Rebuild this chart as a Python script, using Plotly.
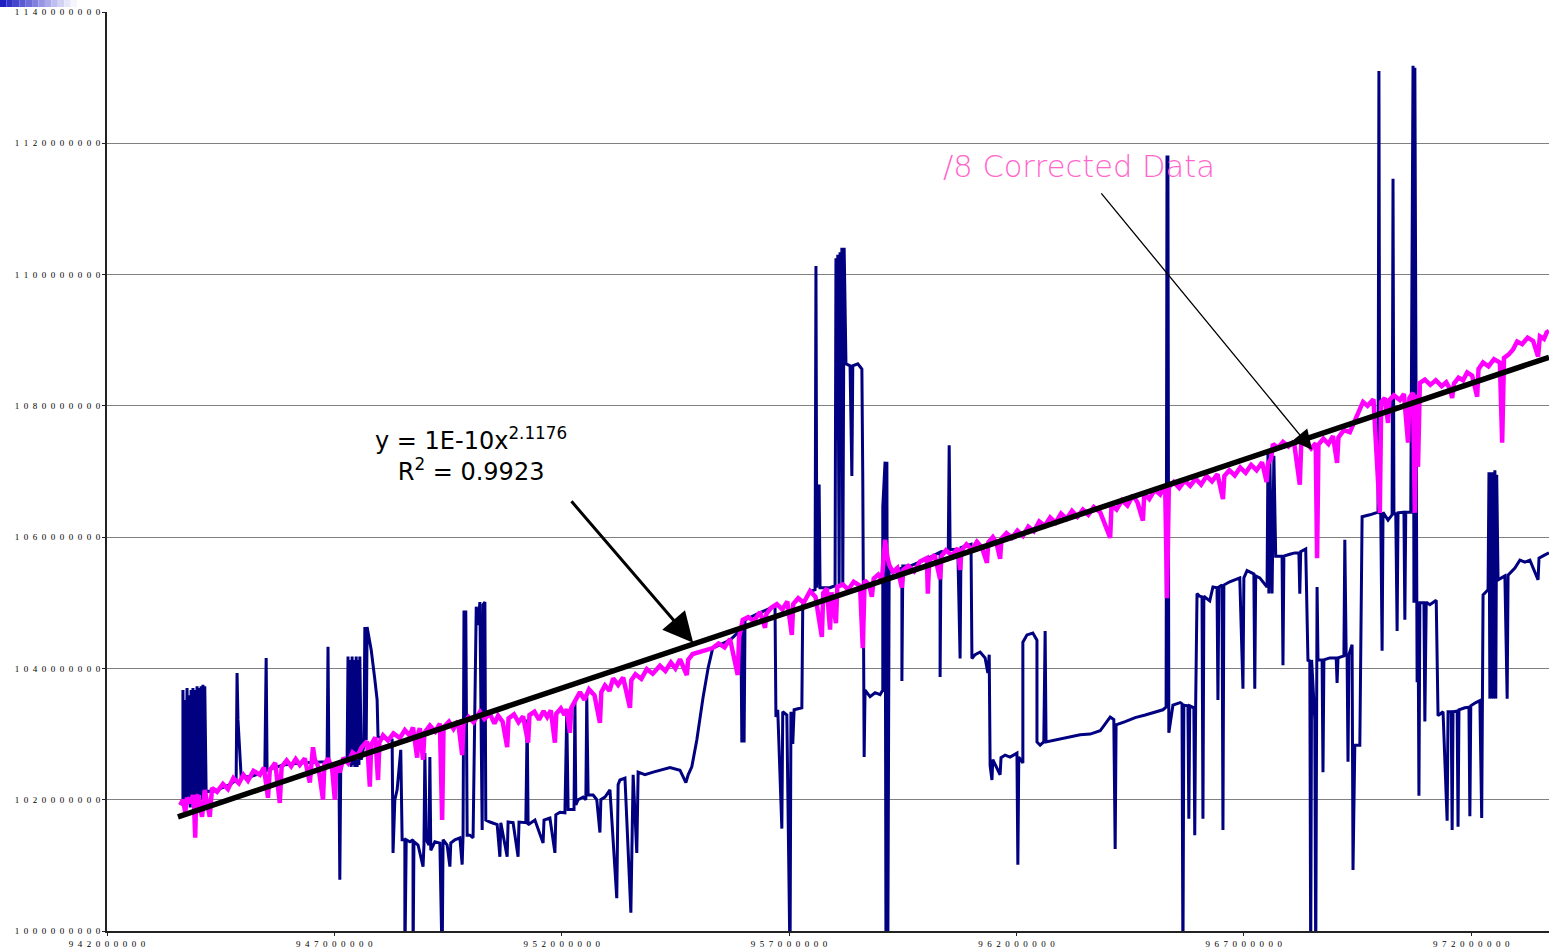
import plotly.graph_objects as go

# ---- data (x and y in millions) ----
# "/8 corrected" series: (x, y) readings
MAG_POINTS = [
    (943.61, 1019.2), (943.67, 1020.0), (943.72, 1018.1), (943.76, 1020.3), (943.83, 1019.5), (943.89, 1020.7),
    (943.91, 1020.0), (943.94, 1014.2), (943.96, 1020.4), (944.00, 1020.7), (944.09, 1017.4), (944.15, 1021.5),
    (944.26, 1017.4), (944.31, 1021.8), (944.42, 1021.2), (944.55, 1022.4), (944.66, 1021.6), (944.78, 1023.3),
    (944.90, 1022.5), (945.00, 1023.8), (945.10, 1022.9), (945.22, 1024.4), (945.36, 1023.8), (945.45, 1024.9),
    (945.54, 1020.3), (945.58, 1024.5), (945.70, 1025.6), (945.80, 1019.5), (945.84, 1025.0), (945.95, 1026.0),
    (946.05, 1025.1), (946.15, 1026.2), (946.24, 1025.3), (946.35, 1026.3), (946.46, 1022.6), (946.49, 1025.9),
    (946.53, 1028.0), (946.57, 1026.1), (946.65, 1025.0), (946.75, 1020.0), (946.78, 1025.4), (946.86, 1026.3),
    (946.95, 1024.8), (947.01, 1020.0), (947.04, 1025.2), (947.12, 1024.2), (947.20, 1026.4), (947.30, 1025.6),
    (947.40, 1027.2), (947.50, 1026.6), (947.60, 1028.0), (947.72, 1028.9), (947.78, 1022.0), (947.81, 1028.4),
    (947.90, 1029.5), (947.96, 1023.0), (947.99, 1028.7), (948.07, 1029.8), (948.18, 1029.0), (948.30, 1030.1),
    (948.44, 1029.4), (948.55, 1030.6), (948.65, 1029.8), (948.73, 1031.0), (948.82, 1026.4), (948.85, 1030.3),
    (948.88, 1030.9), (948.95, 1026.1), (948.98, 1030.2), (949.10, 1031.3), (949.22, 1030.4), (949.32, 1031.6),
    (949.37, 1016.9), (949.40, 1031.0), (949.52, 1031.9), (949.62, 1030.8), (949.72, 1032.0), (949.81, 1026.8),
    (949.84, 1031.6), (949.95, 1032.6), (950.06, 1031.8), (950.20, 1033.4), (950.30, 1032.3), (950.42, 1033.1),
    (950.52, 1031.6), (950.60, 1032.8), (950.70, 1031.9), (950.80, 1028.0), (950.83, 1032.4), (950.95, 1033.0),
    (951.05, 1031.8), (951.15, 1032.7), (951.26, 1028.7), (951.29, 1032.9), (951.40, 1033.4), (951.50, 1032.2),
    (951.60, 1033.5), (951.68, 1032.6), (951.76, 1033.6), (951.85, 1028.7), (951.88, 1033.1), (951.98, 1033.9),
    (952.06, 1032.9), (952.11, 1033.8), (952.18, 1030.2), (952.21, 1034.0), (952.29, 1035.0), (952.40, 1036.4),
    (952.50, 1035.2), (952.60, 1036.8), (952.72, 1035.9), (952.84, 1031.7), (952.87, 1036.4), (952.95, 1037.4),
    (953.05, 1036.6), (953.13, 1038.5), (953.24, 1037.5), (953.35, 1038.6), (953.50, 1034.0), (953.53, 1038.2),
    (953.62, 1039.1), (953.75, 1038.4), (953.87, 1039.9), (954.00, 1039.2), (954.16, 1040.4), (954.28, 1039.6),
    (954.40, 1040.9), (954.50, 1040.0), (954.60, 1041.4), (954.75, 1039.0), (954.78, 1041.3), (954.88, 1042.2),
    (955.32, 1043.1), (955.45, 1043.8), (955.58, 1043.2), (955.70, 1044.5), (955.87, 1039.0), (955.90, 1044.8),
    (955.94, 1046.0), (955.98, 1047.4), (956.10, 1047.8), (956.22, 1047.2), (956.36, 1048.6), (956.47, 1046.2),
    (956.50, 1048.3), (956.60, 1049.2), (956.73, 1049.8), (956.85, 1049.0), (956.96, 1050.2), (957.06, 1045.1),
    (957.09, 1049.8), (957.20, 1050.7), (957.32, 1050.0), (957.46, 1051.8), (957.58, 1050.9), (957.72, 1044.8),
    (957.75, 1051.5), (957.83, 1052.2), (957.90, 1045.9), (957.93, 1051.6), (958.03, 1046.9), (958.06, 1052.4),
    (958.18, 1052.8), (958.30, 1052.0), (958.42, 1053.2), (958.56, 1052.6), (958.62, 1043.1), (958.66, 1053.4),
    (958.76, 1052.8), (958.82, 1050.9), (958.86, 1053.7), (958.96, 1054.3), (959.04, 1053.5), (959.11, 1059.6),
    (959.16, 1057.0), (959.20, 1055.8), (959.28, 1054.7), (959.38, 1055.3), (959.48, 1052.3), (959.51, 1055.0),
    (959.62, 1055.6), (959.75, 1054.8), (959.88, 1056.3), (960.03, 1056.8), (960.05, 1051.4), (960.08, 1056.4),
    (960.20, 1057.3), (960.32, 1053.6), (960.35, 1057.1), (960.45, 1058.0), (960.58, 1057.2), (960.71, 1058.3),
    (960.76, 1055.0), (960.79, 1058.0), (960.90, 1058.9), (961.02, 1058.1), (961.13, 1059.3), (961.24, 1058.4),
    (961.35, 1056.1), (961.38, 1059.2), (961.48, 1060.0), (961.56, 1059.1), (961.64, 1056.7), (961.67, 1059.8),
    (961.78, 1060.6), (961.90, 1059.9), (962.02, 1061.0), (962.14, 1060.2), (962.26, 1061.6), (962.38, 1060.9),
    (962.50, 1062.4), (962.62, 1061.7), (962.74, 1063.0), (962.86, 1062.2), (962.98, 1063.6), (963.10, 1062.8),
    (963.22, 1064.0), (963.34, 1063.1), (963.46, 1064.2), (963.58, 1063.4), (963.70, 1064.6), (963.84, 1063.8),
    (964.06, 1059.9), (964.09, 1064.9), (964.20, 1064.2), (964.32, 1065.6), (964.44, 1064.8), (964.56, 1066.4),
    (964.66, 1065.3), (964.78, 1062.5), (964.81, 1066.6), (964.92, 1065.8), (965.04, 1067.2), (965.16, 1066.5),
    (965.27, 1067.9), (965.31, 1050.7), (965.35, 1067.6), (965.46, 1068.4), (965.58, 1067.5), (965.70, 1068.6),
    (965.82, 1067.8), (965.94, 1068.9), (966.06, 1068.0), (966.18, 1069.3), (966.30, 1068.5), (966.42, 1069.6),
    (966.54, 1065.8), (966.57, 1069.3), (966.68, 1070.2), (966.80, 1069.4), (966.92, 1070.6), (967.04, 1069.8),
    (967.16, 1071.0), (967.28, 1070.2), (967.40, 1071.4), (967.50, 1068.4), (967.53, 1071.2), (967.60, 1072.0),
    (967.64, 1074.2), (967.75, 1073.6), (967.86, 1074.5), (967.98, 1073.8), (968.10, 1074.6), (968.23, 1068.0),
    (968.26, 1074.0), (968.36, 1074.6), (968.48, 1073.5), (968.58, 1074.3), (968.61, 1056.8), (968.64, 1074.1),
    (968.75, 1075.0), (968.86, 1074.2), (968.96, 1075.4), (969.05, 1071.3), (969.08, 1075.2), (969.20, 1076.3),
    (969.33, 1076.0), (969.42, 1077.4), (969.49, 1078.5), (969.56, 1079.6), (969.62, 1080.6), (969.72, 1080.0),
    (969.85, 1081.0), (969.99, 1063.7), (970.02, 1080.6), (970.10, 1081.2), (970.17, 1077.4), (970.20, 1080.9),
    (970.30, 1081.6), (970.43, 1080.9), (970.52, 1081.8), (970.61, 1074.4), (970.64, 1081.2), (970.72, 1082.0),
    (970.76, 1063.7), (970.78, 1081.7), (970.83, 1070.7), (970.87, 1083.5), (970.98, 1084.0), (971.10, 1083.2),
    (971.22, 1083.9), (971.35, 1083.0), (971.45, 1083.6), (971.53, 1082.6), (971.58, 1081.2), (971.62, 1083.4),
    (971.72, 1084.3), (971.82, 1083.9), (971.91, 1085.1), (972.02, 1084.6), (972.13, 1081.4), (972.16, 1085.6),
    (972.26, 1086.6), (972.38, 1086.0), (972.50, 1087.1), (972.63, 1086.6), (972.68, 1074.4), (972.72, 1087.3),
    (972.82, 1087.8), (972.92, 1088.6), (973.01, 1089.8), (973.12, 1089.4), (973.24, 1090.4), (973.36, 1089.9),
    (973.47, 1087.5), (973.51, 1090.6), (973.60, 1090.2), (973.66, 1091.2), (973.71, 1091.4),
]

NAVY_X = [943.61, 943.67, 943.67, 943.69, 943.72, 943.74, 943.76, 943.78, 943.80, 943.83, 943.85, 943.87, 943.89, 943.91,
          943.94, 943.96, 943.98, 944.00, 944.02, 944.04, 944.07, 944.09, 944.11, 944.13, 944.15, 944.18, 944.42, 944.70,
          944.84, 944.86, 944.88, 944.95, 945.14, 945.47, 945.50, 945.52, 945.87, 946.24, 946.84, 946.86, 946.88, 947.10,
          947.12, 947.14, 947.28, 947.30, 947.32, 947.34, 947.37, 947.39, 947.41, 947.43, 947.45, 947.48, 947.50, 947.52,
          947.54, 947.56, 947.59, 947.65, 947.67, 947.70, 947.72, 947.81, 947.89, 947.94, 947.96, 948.27, 948.29, 948.33,
          948.38, 948.46, 948.49, 948.55, 948.55, 948.58, 948.66, 948.73, 948.73, 948.75, 948.84, 948.95, 948.97, 948.99,
          949.02, 949.08, 949.10, 949.12, 949.21, 949.32, 949.37, 949.39, 949.48, 949.54, 949.56, 949.65, 949.76, 949.81,
          949.83, 949.85, 949.89, 949.92, 949.98, 950.05, 950.12, 950.16, 950.20, 950.25, 950.27, 950.31, 950.33, 950.42,
          950.58, 950.64, 950.66, 950.80, 950.82, 950.93, 951.04, 951.06, 951.21, 951.24, 951.26, 951.41, 951.59, 951.61,
          951.74, 951.85, 951.87, 951.96, 952.07, 952.11, 952.14, 952.27, 952.29, 952.31, 952.36, 952.47, 952.53, 952.55,
          952.58, 952.69, 952.77, 952.84, 952.86, 952.95, 953.06, 953.21, 953.24, 953.28, 953.39, 953.52, 953.57, 953.65,
          953.68, 953.83, 954.01, 954.16, 954.38, 954.60, 954.73, 954.78, 954.86, 954.97, 955.11, 955.22, 955.32, 955.70,
          955.94, 955.96, 955.98, 956.01, 956.03, 956.36, 956.69, 956.71, 956.75, 956.84, 956.86, 956.95, 957.02, 957.04,
          957.08, 957.11, 957.28, 957.30, 957.46, 957.57, 957.59, 957.61, 957.66, 957.68, 957.90, 958.01, 958.03, 958.05,
          958.07, 958.10, 958.12, 958.14, 958.16, 958.18, 958.21, 958.25, 958.34, 958.38, 958.40, 958.51, 958.60, 958.62,
          958.65, 958.67, 958.78, 958.89, 959.00, 959.06, 959.06, 959.11, 959.13, 959.15, 959.17, 959.20, 959.28, 959.48,
          959.48, 959.50, 959.66, 960.03, 960.32, 960.32, 960.34, 960.50, 960.52, 960.54, 960.71, 960.76, 960.78, 961.00,
          961.02, 961.09, 961.20, 961.31, 961.37, 961.40, 961.42, 961.46, 961.48, 961.64, 961.66, 961.75, 961.86, 962.01,
          962.03, 962.05, 962.14, 962.14, 962.23, 962.36, 962.45, 962.45, 962.52, 962.60, 962.63, 962.65, 962.85, 963.11,
          963.40, 963.62, 963.84, 964.06, 964.14, 964.17, 964.19, 964.39, 964.61, 964.83, 965.05, 965.22, 965.29, 965.31,
          965.33, 965.35, 965.44, 965.60, 965.64, 965.66, 965.68, 965.77, 965.79, 965.81, 965.90, 965.92, 965.94, 965.97,
          966.03, 966.08, 966.10, 966.12, 966.25, 966.32, 966.41, 966.43, 966.45, 966.52, 966.54, 966.56, 966.69, 966.91,
          966.98, 967.00, 967.07, 967.22, 967.24, 967.26, 967.35, 967.51, 967.53, 967.55, 967.57, 967.62, 967.66, 967.70,
          967.79, 967.84, 967.86, 967.88, 968.01, 968.12, 968.21, 968.23, 968.25, 968.36, 968.41, 968.45, 968.47, 968.49,
          968.56, 968.58, 968.61, 968.63, 968.72, 968.74, 968.76, 968.89, 969.03, 969.05, 969.07, 969.20, 969.22, 969.25,
          969.27, 969.29, 969.31, 969.38, 969.40, 969.44, 969.55, 969.60, 969.77, 969.95, 969.97, 969.99, 970.01, 970.04,
          970.06, 970.17, 970.26, 970.28, 970.30, 970.34, 970.37, 970.39, 970.52, 970.54, 970.56, 970.67, 970.72, 970.74,
          970.76, 970.81, 970.83, 970.85, 970.87, 970.96, 970.98, 971.01, 971.09, 971.23, 971.27, 971.38, 971.47, 971.49,
          971.56, 971.58, 971.60, 971.69, 971.71, 971.73, 971.86, 971.95, 971.97, 971.99, 972.10, 972.19, 972.23, 972.26,
          972.37, 972.39, 972.41, 972.43, 972.45, 972.47, 972.50, 972.52, 972.54, 972.56, 972.59, 972.74, 972.79, 972.81,
          972.96, 973.07, 973.18, 973.29, 973.47, 973.49, 973.62, 973.71]
NAVY_Y = [1019.2, 1020.0, 1036.7, 1019.2, 1035.2, 1019.2, 1037.0, 1020.0, 1035.9, 1018.8, 1036.7, 1020.0, 1037.0, 1019.2,
          1036.7, 1020.0, 1037.3, 1020.3, 1037.0, 1020.7, 1037.3, 1020.0, 1037.5, 1020.7, 1037.3, 1021.2, 1021.5, 1022.3,
          1023.0, 1039.3, 1032.2, 1023.5, 1023.5, 1024.2, 1041.6, 1024.5, 1025.3, 1025.6, 1025.8, 1043.3, 1025.3, 1024.9,
          1007.8, 1025.3, 1026.1, 1041.8, 1025.3, 1041.3, 1025.0, 1041.8, 1025.3, 1041.3, 1025.0, 1041.8, 1025.0, 1041.3,
          1025.3, 1041.8, 1026.1, 1028.3, 1046.3, 1029.1, 1046.3, 1042.8, 1038.3, 1035.2, 1029.6, 1029.1, 1011.9, 1020.0,
          1021.5, 1027.6, 1013.9, 1013.9, 995.0, 1013.9, 1013.6, 1013.9, 995.0, 1013.6, 1013.1, 1009.8, 1013.1, 1027.1,
          1013.9, 1013.1, 1026.5, 1012.3, 1013.6, 1013.4, 995.0, 1013.9, 1013.1, 1009.8, 1013.4, 1013.9, 1014.2, 1010.1,
          1014.6, 1048.6, 1048.6, 1014.6, 1014.6, 1014.2, 1049.4, 1046.6, 1050.1, 1015.4, 1049.7, 1050.1, 1016.9, 1016.6,
          1016.2, 1011.3, 1016.5, 1011.3, 1016.6, 1016.5, 1011.3, 1016.6, 1016.5, 1032.2, 1016.2, 1016.9, 1013.4, 1016.9,
          1017.2, 1011.9, 1017.7, 1018.1, 1018.0, 1033.2, 1018.5, 1018.5, 1034.8, 1019.2, 1020.0, 1020.4, 1020.0, 1035.7,
          1020.7, 1020.7, 1020.0, 1015.0, 1020.0, 1020.4, 1021.5, 1005.0, 1022.3, 1023.0, 1023.3, 1002.8, 1023.8, 1011.9,
          1024.2, 1023.8, 1024.2, 1024.5, 1024.9, 1024.5, 1022.6, 1023.8, 1025.0, 1029.1, 1035.7, 1040.1, 1043.1, 1044.3,
          1045.9, 1028.7, 1045.9, 1028.7, 1047.4, 1048.5, 1049.5, 1032.6, 1033.7, 1015.6, 1033.4, 1032.9, 995.0, 1033.4,
          1028.5, 1033.7, 1034.0, 1049.7, 1051.7, 1052.0, 1101.3, 1052.3, 1068.0, 1052.3, 1052.3, 1052.6, 1102.5, 1074.8,
          1103.0, 1052.7, 1103.4, 1070.2, 1104.1, 1052.7, 1104.1, 1086.4, 1086.1, 1069.3, 1086.1, 1086.4, 1085.6, 1068.7,
          1026.5, 1036.7, 1035.7, 1036.3, 1036.0, 1036.7, 1064.6, 1071.5, 995.0, 1071.5, 995.0, 1055.0, 1054.7, 1055.3,
          1038.1, 1055.6, 1055.6, 1056.7, 1057.7, 1038.7, 1057.7, 1058.0, 1074.0, 1058.1, 1058.1, 1041.5, 1058.4, 1058.9,
          1041.5, 1042.1, 1042.5, 1041.6, 1039.3, 1042.1, 1025.2, 1023.0, 1026.1, 1023.8, 1026.4, 1026.8, 1026.5, 1027.1,
          1010.1, 1026.5, 1025.6, 1044.0, 1045.1, 1045.4, 1044.3, 1028.8, 1028.3, 1028.8, 1045.7, 1028.8, 1029.1, 1029.4,
          1029.9, 1030.0, 1030.5, 1032.6, 1032.2, 1012.5, 1031.4, 1031.9, 1032.5, 1032.9, 1033.4, 1033.7, 1034.1, 1117.9,
          1117.9, 1030.2, 1034.4, 1034.8, 1034.6, 995.0, 1034.4, 1034.3, 1017.1, 1034.3, 1034.0, 1014.6, 1034.4, 1051.4,
          1051.0, 1050.9, 1017.1, 1051.0, 1050.3, 1052.4, 1052.3, 1035.2, 1052.4, 1052.7, 1015.4, 1052.7, 1053.2, 1053.8,
          1036.9, 1053.8, 1054.9, 1054.4, 1036.9, 1054.1, 1053.8, 1052.4, 1072.7, 1051.4, 1072.6, 1051.4, 1072.4, 1057.1,
          1057.1, 1057.1, 1040.5, 1057.1, 1057.4, 1057.6, 1057.6, 1051.4, 1057.8, 1058.2, 1041.1, 1041.3, 995.0, 1041.3,
          1032.2, 995.0, 1052.4, 1041.3, 1041.3, 1024.2, 1041.3, 1041.6, 1041.6, 1037.8, 1041.6, 1041.9, 1059.6, 1041.9,
          1042.0, 1025.8, 1042.1, 1043.6, 1009.3, 1028.3, 1028.3, 1063.1, 1063.4, 1063.8, 1131.0, 1063.5, 1063.8, 1042.7,
          1063.8, 1062.6, 1063.4, 1114.6, 1063.4, 1063.7, 1045.7, 1063.7, 1063.8, 1047.4, 1063.8, 1063.8, 1131.8, 1050.0,
          1131.5, 1037.9, 1049.7, 1020.6, 1050.0, 1050.0, 1031.9, 1050.1, 1049.7, 1050.4, 1032.8, 1033.4, 1016.8, 1033.4,
          1033.4, 1015.4, 1033.4, 1033.5, 1015.9, 1033.7, 1034.0, 1034.1, 1017.5, 1034.3, 1034.8, 1035.1, 1017.2, 1051.2,
          1052.0, 1069.9, 1035.4, 1069.9, 1035.4, 1069.9, 1035.4, 1070.2, 1035.4, 1069.5, 1053.5, 1054.1, 1035.4, 1054.2,
          1055.3, 1056.5, 1056.2, 1056.5, 1053.5, 1056.8, 1057.3, 1057.6]

# trend line points (power fit shown in the note)
TREND_X = [943.56, 951.08, 958.65, 966.03, 973.71]
TREND_Y = [1017.4, 1034.9, 1052.4, 1069.6, 1087.4]

X_TICKS = [942000000, 947000000, 952000000, 957000000, 962000000, 967000000, 972000000]
Y_TICKS = [1000000000, 1020000000, 1040000000, 1060000000, 1080000000, 1100000000, 1120000000, 1140000000]

EQ_TEXT = "y = 1E-10x<sup>2.1176</sup><br>R<sup>2</sup> = 0.9923"
LABEL_TEXT = "/8 Corrected Data"

M = 1e6
MAG_X = [p[0] for p in MAG_POINTS]
MAG_Y = [p[1] for p in MAG_POINTS]


def spaced(v):
    return "\u2002".join(str(v))


fig = go.Figure()
fig.add_trace(go.Scatter(x=[v * M for v in NAVY_X], y=[v * M for v in NAVY_Y], mode="lines",
                         line=dict(color="#000080", width=3), showlegend=False, hoverinfo="skip"))
fig.add_trace(go.Scatter(x=[v * M for v in MAG_X], y=[v * M for v in MAG_Y], mode="lines",
                         line=dict(color="#FF00FF", width=4.5), showlegend=False, hoverinfo="skip"))
fig.add_trace(go.Scatter(x=[v * M for v in TREND_X], y=[v * M for v in TREND_Y], mode="lines",
                         line=dict(color="#000000", width=5.5), showlegend=False, hoverinfo="skip"))

tickfont = dict(family="Liberation Serif, DejaVu Serif, serif", size=9, color="#000000")
fig.update_xaxes(range=[942e6, 973.71e6], tickvals=X_TICKS, ticktext=[spaced(v) for v in X_TICKS],
                 showgrid=False, zeroline=False, showline=True, linecolor="#222222", linewidth=2,
                 ticks="outside", ticklen=3, tickcolor="#222222", tickfont=tickfont, automargin=False)
fig.update_yaxes(range=[1000e6, 1140e6], tickvals=Y_TICKS, ticktext=[spaced(v) for v in Y_TICKS],
                 showgrid=True, gridcolor="#808080", gridwidth=1, zeroline=False, showline=True,
                 linecolor="#222222", linewidth=2, ticks="outside", ticklen=3, tickcolor="#222222",
                 tickfont=tickfont, automargin=False)

fig.add_annotation(x=950.00 * M, y=1072.6 * M, text=EQ_TEXT, showarrow=False, align="center",
                   font=dict(family="DejaVu Sans, Arial, sans-serif", size=24, color="#000000"))
fig.add_annotation(x=963.38 * M, y=1116.5 * M, text=LABEL_TEXT, showarrow=False,
                   font=dict(family="DejaVu Sans, Arial, sans-serif", size=30.5, color="#FF66CC", weight=200))
# arrows
fig.add_annotation(x=954.89 * M, y=1043.9 * M, ax=-123, ay=-143, text="", showarrow=True,
                   arrowhead=2, arrowsize=2, arrowwidth=3, arrowcolor="#000000")
fig.add_annotation(x=968.50 * M, y=1073.3 * M, ax=-212, ay=-258, text="", showarrow=True,
                   arrowhead=2, arrowsize=3, arrowwidth=1.3, arrowcolor="#000000")

# small gradient bar at top-left corner
GRAD = ["#2020C0", "#3232C6", "#4646CC", "#5A5AD2", "#6E6ED8", "#8282DE", "#9696E4", "#AAAAEA", "#BEBEF0",
        "#D2D2F5", "#E6E6FA", "#F5F5FD"]
seg = 77 / len(GRAD)
for i, c in enumerate(GRAD):
    x0 = (i * seg - 107) / 1442
    x1 = ((i + 1) * seg - 107) / 1442
    fig.add_shape(type="rect", xref="paper", yref="paper", x0=x0, x1=x1, y0=(931 - 7) / 919, y1=(931 + 2) / 919,
                  line=dict(width=0), fillcolor=c, layer="above")

fig.update_layout(width=1549, height=951, margin=dict(l=107, r=0, t=12, b=20, autoexpand=False),
                  plot_bgcolor="white", paper_bgcolor="white", showlegend=False)

fig.write_html("out.html", config={"displayModeBar": False},
               post_script="document.body.style.margin='0px';document.body.style.overflow='hidden';")
